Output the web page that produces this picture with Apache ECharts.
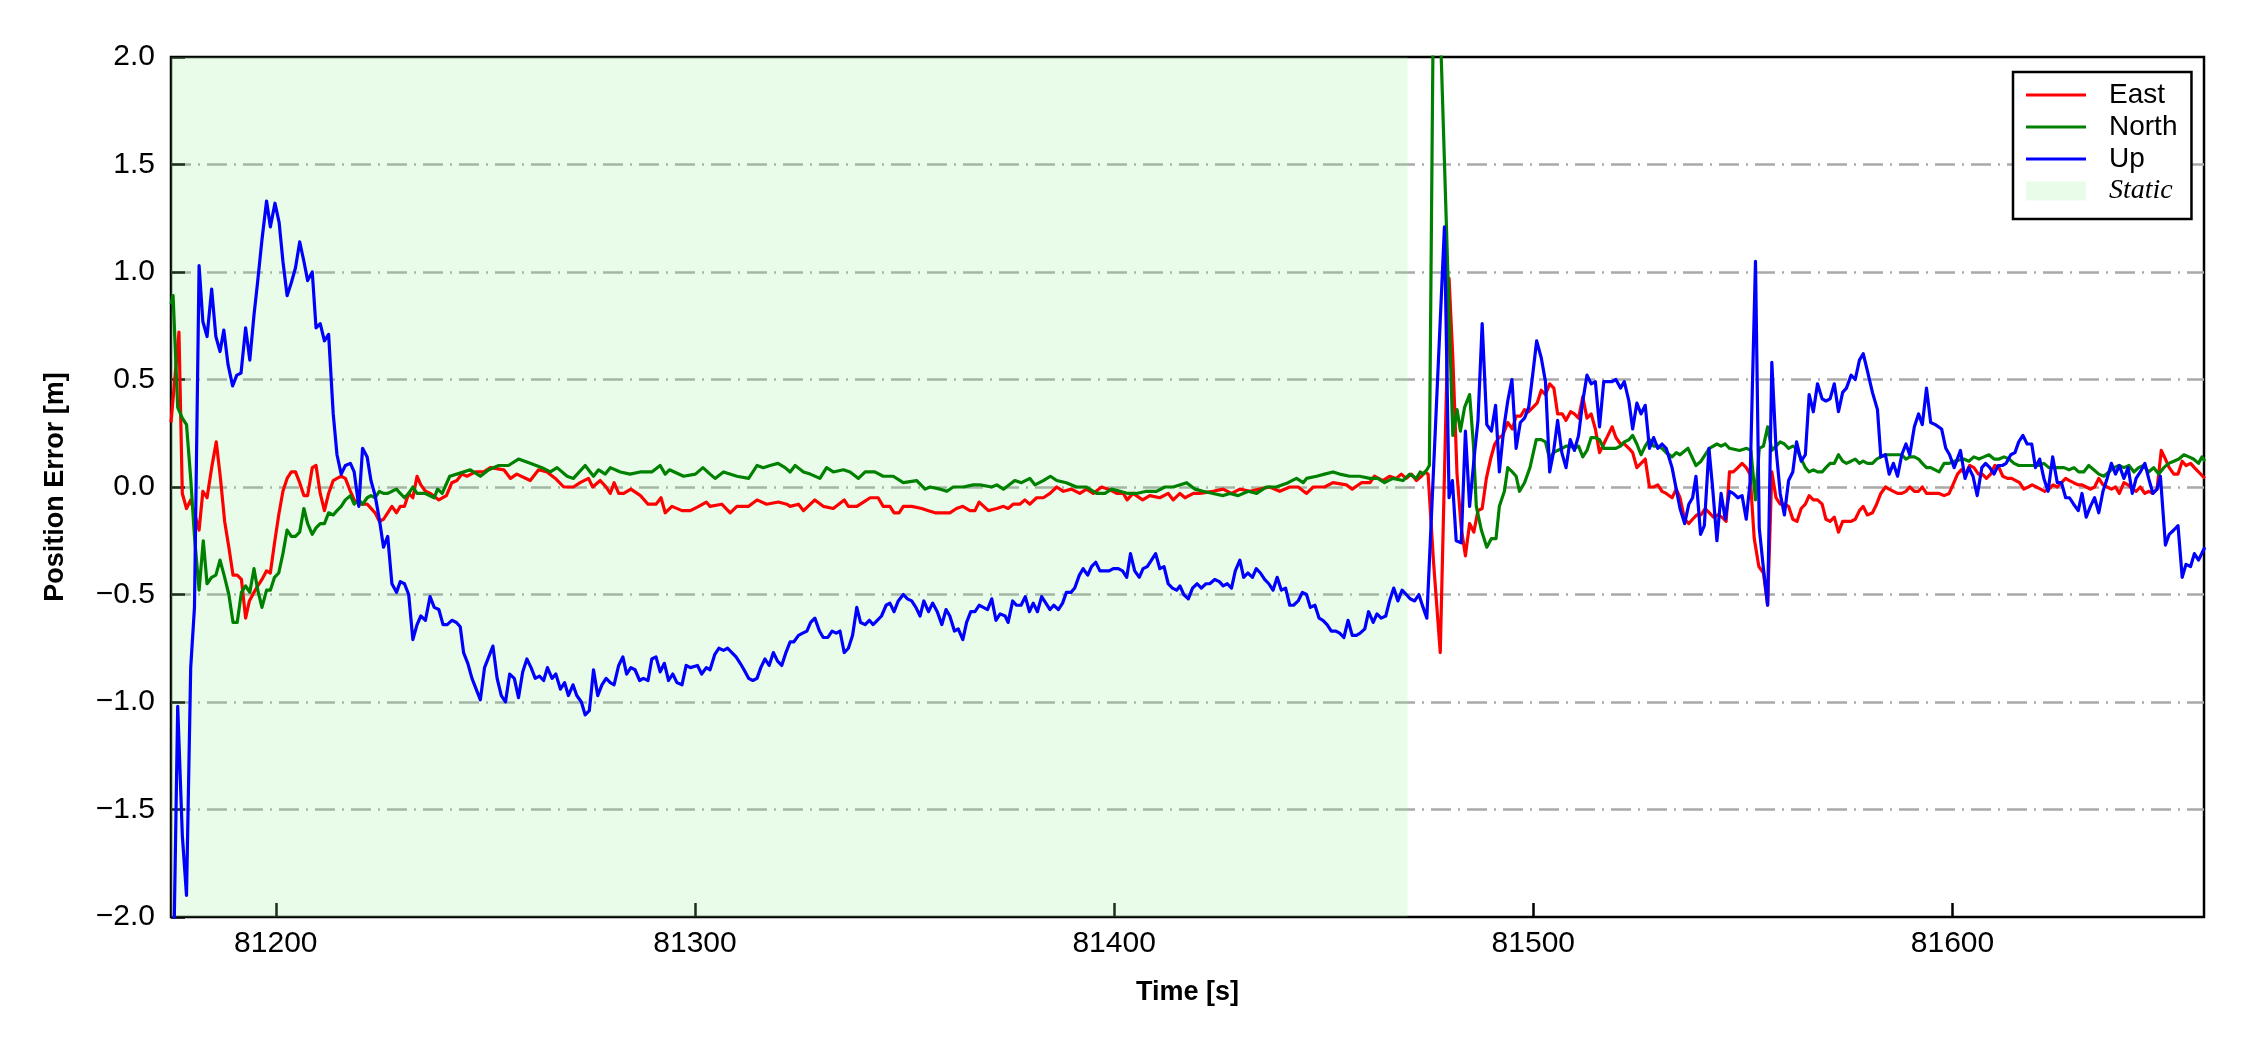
<!DOCTYPE html>
<html><head><meta charset="utf-8">
<script src="https://cdn.jsdelivr.net/npm/echarts@6/dist/echarts.min.js"></script>
<style>html,body{margin:0;padding:0;background:#fff}#chart{width:2250px;height:1050px}</style>
</head><body><div id="chart"></div>
<script>
// ---- data: [time (s), position error (m)] ----
const eastData = [
[81175.0,0.30],[81175.9,0.50],[81176.9,0.72],[81177.7,-0.03],[81178.7,-0.10],[81179.7,-0.06],[81181.7,-0.20],[81182.6,-0.02],[81183.6,-0.05],[81184.7,0.09],
[81185.8,0.21],[81186.8,0.04],[81187.8,-0.16],[81188.8,-0.28],[81189.8,-0.41],[81190.8,-0.41],[81191.8,-0.43],[81192.8,-0.61],[81193.7,-0.53],[81194.8,-0.49],
[81195.7,-0.46],[81196.7,-0.43],[81197.8,-0.39],[81198.7,-0.40],[81199.7,-0.26],[81200.7,-0.13],[81201.7,-0.02],[81202.7,0.04],[81203.7,0.07],[81204.7,0.07],
[81205.7,0.02],[81206.7,-0.04],[81207.6,-0.04],[81208.7,0.09],[81209.6,0.10],[81210.6,-0.03],[81211.6,-0.11],[81212.6,-0.03],[81213.7,0.03],[81214.6,0.04],
[81215.6,0.05],[81216.6,0.04],[81217.8,-0.02],[81218.7,-0.06],[81219.8,-0.08],[81221.8,-0.08],[81223.7,-0.12],[81224.7,-0.16],[81225.7,-0.15],[81226.7,-0.12],
[81227.7,-0.09],[81228.8,-0.12],[81229.7,-0.09],[81230.7,-0.09],[81231.7,-0.03],[81232.7,-0.05],[81233.7,0.05],[81234.6,0.01],[81235.7,-0.02],[81236.9,-0.03],
[81238.9,-0.06],[81240.7,-0.04],[81242.0,0.02],[81243.2,0.03],[81244.4,0.06],[81245.6,0.05],[81247.6,0.07],[81249.6,0.07],[81251.2,0.09],[81254.4,0.08],
[81256.0,0.04],[81257.5,0.06],[81260.7,0.03],[81262.7,0.08],[81264.7,0.07],[81266.7,0.04],[81268.7,0.00],[81271.0,0.00],[81272.6,0.02],[81274.6,0.04],
[81275.6,0.00],[81277.4,0.03],[81278.8,0.00],[81279.8,-0.03],[81280.7,0.02],[81281.8,-0.03],[81283.0,-0.03],[81284.7,-0.01],[81287.0,-0.04],[81288.8,-0.08],
[81290.7,-0.08],[81291.9,-0.05],[81292.9,-0.12],[81294.5,-0.09],[81296.9,-0.11],[81298.9,-0.11],[81300.9,-0.09],[81302.7,-0.07],[81303.6,-0.09],[81306.4,-0.08],
[81308.4,-0.12],[81310.0,-0.09],[81312.8,-0.09],[81314.8,-0.06],[81317.1,-0.08],[81319.9,-0.07],[81321.9,-0.08],[81322.7,-0.09],[81324.7,-0.08],[81325.9,-0.11],
[81328.6,-0.06],[81330.6,-0.09],[81333.0,-0.10],[81335.6,-0.06],[81336.6,-0.09],[81338.6,-0.09],[81340.2,-0.07],[81341.8,-0.05],[81343.7,-0.05],[81344.9,-0.09],
[81346.5,-0.09],[81347.5,-0.12],[81348.7,-0.12],[81349.7,-0.09],[81351.7,-0.09],[81354.1,-0.10],[81355.7,-0.11],[81357.3,-0.12],[81360.8,-0.12],[81362.4,-0.10],
[81363.9,-0.09],[81365.6,-0.11],[81366.8,-0.11],[81367.8,-0.07],[81370.0,-0.11],[81372.0,-0.10],[81373.6,-0.09],[81374.7,-0.10],[81375.9,-0.08],[81377.5,-0.08],
[81378.7,-0.06],[81379.9,-0.08],[81381.5,-0.05],[81383.1,-0.05],[81384.7,-0.03],[81386.3,0.00],[81387.9,-0.02],[81389.8,-0.01],[81391.8,-0.03],[81393.4,-0.01],
[81395.0,-0.03],[81397.0,0.00],[81398.6,-0.01],[81400.6,-0.03],[81402.2,-0.03],[81403.1,-0.06],[81404.5,-0.03],[81406.8,-0.06],[81408.5,-0.04],[81410.9,-0.05],
[81412.9,-0.03],[81414.1,-0.06],[81415.7,-0.03],[81416.9,-0.05],[81418.9,-0.03],[81420.4,-0.03],[81423.6,-0.02],[81426.0,-0.01],[81428.0,-0.03],[81430.0,-0.01],
[81432.4,-0.02],[81434.7,-0.01],[81437.1,0.00],[81439.5,-0.02],[81441.9,0.00],[81443.9,0.00],[81445.9,-0.03],[81447.5,0.00],[81450.2,0.00],[81452.2,0.02],
[81455.4,0.01],[81456.8,-0.01],[81459.0,0.02],[81461.0,0.02],[81462.1,0.05],[81464.1,0.03],[81465.7,0.05],[81467.3,0.04],[81468.5,0.06],[81469.7,0.04],
[81470.9,0.06],[81472.1,0.03],[81473.3,0.05],[81474.1,0.07],[81474.9,0.06],[81476.2,-0.35],[81477.8,-0.77],[81479.9,0.97],[81480.8,0.60],[81481.8,0.06],
[81482.8,-0.19],[81483.8,-0.32],[81484.8,-0.17],[81485.8,-0.21],[81486.8,-0.11],[81487.8,-0.10],[81488.8,0.04],[81489.8,0.13],[81490.8,0.20],[81491.8,0.23],
[81492.7,0.24],[81493.9,0.30],[81495.0,0.27],[81495.9,0.33],[81497.0,0.33],[81497.9,0.36],[81498.9,0.35],[81499.9,0.37],[81500.9,0.39],[81501.9,0.45],
[81502.9,0.43],[81503.9,0.48],[81504.9,0.46],[81505.8,0.34],[81506.9,0.34],[81507.8,0.31],[81508.9,0.35],[81509.8,0.34],[81510.8,0.32],[81511.8,0.42],
[81512.8,0.32],[81513.8,0.34],[81514.8,0.27],[81515.8,0.16],[81516.8,0.20],[81517.8,0.24],[81518.8,0.28],[81519.7,0.23],[81520.8,0.20],[81521.7,0.20],
[81522.8,0.18],[81523.7,0.16],[81524.7,0.09],[81525.7,0.11],[81526.7,0.13],[81527.7,0.00],[81528.7,0.00],[81529.7,0.01],[81530.7,-0.02],[81531.7,-0.03],
[81533.1,-0.05],[81534.1,-0.01],[81535.0,-0.05],[81536.1,-0.15],[81537.1,-0.17],[81538.0,-0.15],[81539.0,-0.13],[81540.0,-0.13],[81541.0,-0.10],[81542.0,-0.12],
[81543.0,-0.14],[81544.0,-0.13],[81545.0,-0.14],[81546.0,-0.16],[81546.8,0.07],[81547.7,0.07],[81548.8,0.09],[81549.8,0.11],[81550.8,0.09],[81551.7,0.06],
[81552.7,-0.24],[81553.8,-0.37],[81554.9,-0.40],[81555.9,-0.55],[81556.9,0.07],[81557.9,-0.05],[81558.9,-0.08],[81559.9,-0.08],[81560.9,-0.09],[81561.9,-0.15],
[81562.9,-0.16],[81563.9,-0.10],[81564.9,-0.08],[81565.8,-0.04],[81566.8,-0.06],[81567.8,-0.06],[81568.9,-0.08],[81569.8,-0.15],[81570.8,-0.16],[81571.8,-0.14],
[81572.8,-0.21],[81573.8,-0.16],[81574.7,-0.16],[81575.8,-0.16],[81576.8,-0.15],[81577.8,-0.11],[81578.7,-0.09],[81579.7,-0.13],[81580.9,-0.12],[81581.9,-0.08],
[81582.9,-0.03],[81584.0,0.00],[81584.9,-0.01],[81585.9,-0.02],[81586.9,-0.03],[81587.9,-0.03],[81588.9,-0.02],[81589.8,0.00],[81590.9,-0.02],[81591.9,-0.02],
[81592.8,0.00],[81593.8,-0.03],[81594.8,-0.03],[81596.8,-0.03],[81598.0,-0.04],[81599.2,-0.03],[81600.1,0.01],[81601.2,0.06],[81602.1,0.08],[81603.1,0.06],
[81604.1,0.10],[81605.1,0.09],[81606.2,0.06],[81607.1,0.06],[81608.1,0.04],[81609.1,0.06],[81610.1,0.10],[81611.1,0.09],[81612.0,0.05],[81613.1,0.04],
[81614.1,0.04],[81615.1,0.03],[81616.0,0.02],[81617.0,-0.01],[81618.1,0.00],[81619.0,0.01],[81620.0,0.00],[81621.0,-0.01],[81622.0,-0.02],[81623.0,-0.01],
[81624.0,0.01],[81625.0,0.00],[81626.0,0.02],[81627.0,0.04],[81627.9,0.03],[81628.9,0.02],[81630.0,0.01],[81630.9,0.01],[81631.9,0.00],[81632.9,-0.01],
[81633.9,0.00],[81634.9,0.04],[81635.9,0.01],[81636.9,0.00],[81637.9,-0.01],[81638.9,0.00],[81639.8,-0.03],[81640.9,0.02],[81641.9,0.01],[81642.9,-0.01],
[81643.8,-0.02],[81644.8,0.00],[81645.9,-0.03],[81646.8,-0.02],[81647.8,-0.03],[81648.8,-0.01],[81649.8,0.17],[81650.8,0.13],[81651.7,0.09],[81652.8,0.06],
[81653.8,0.06],[81654.8,0.12],[81655.7,0.10],[81656.8,0.11],[81657.7,0.09],[81658.7,0.07],[81659.7,0.05],[81660.2,0.04]
];
const northData = [
[81175.0,0.85],[81175.5,0.89],[81176.6,0.37],[81177.7,0.32],[81178.7,0.29],[81179.7,0.04],[81180.6,-0.23],[81181.7,-0.48],[81182.7,-0.25],[81183.6,-0.45],
[81184.7,-0.42],[81185.7,-0.41],[81186.7,-0.34],[81187.8,-0.42],[81188.8,-0.50],[81189.8,-0.63],[81190.8,-0.63],[81191.8,-0.49],[81192.8,-0.46],[81193.8,-0.49],
[81194.8,-0.38],[81195.7,-0.48],[81196.7,-0.56],[81197.8,-0.48],[81198.7,-0.48],[81199.7,-0.42],[81200.7,-0.40],[81201.7,-0.31],[81202.7,-0.20],[81203.7,-0.23],
[81204.7,-0.23],[81205.7,-0.21],[81206.7,-0.10],[81207.6,-0.17],[81208.7,-0.22],[81209.6,-0.19],[81210.6,-0.17],[81211.6,-0.17],[81212.6,-0.12],[81213.7,-0.13],
[81214.6,-0.11],[81215.6,-0.09],[81216.6,-0.06],[81217.8,-0.04],[81218.7,-0.08],[81219.8,-0.06],[81220.7,-0.08],[81221.8,-0.05],[81222.7,-0.04],[81223.7,-0.05],
[81224.7,-0.02],[81225.7,-0.03],[81226.7,-0.03],[81227.7,-0.02],[81228.8,-0.01],[81229.7,-0.03],[81230.7,-0.05],[81231.7,-0.03],[81232.7,0.00],[81233.7,-0.03],
[81234.6,-0.03],[81235.7,-0.03],[81237.8,-0.05],[81238.6,-0.01],[81239.7,-0.03],[81241.5,0.05],[81243.2,0.06],[81246.4,0.08],[81248.8,0.05],[81250.8,0.08],
[81253.2,0.10],[81255.5,0.10],[81257.9,0.13],[81260.7,0.11],[81263.5,0.09],[81265.5,0.07],[81267.1,0.09],[81269.5,0.05],[81271.0,0.04],[81273.8,0.10],
[81275.8,0.05],[81277.0,0.08],[81278.6,0.06],[81279.8,0.09],[81282.2,0.07],[81284.5,0.06],[81286.9,0.07],[81289.7,0.07],[81291.7,0.10],[81292.9,0.06],
[81293.9,0.08],[81297.3,0.05],[81300.1,0.06],[81301.9,0.09],[81303.6,0.06],[81304.8,0.04],[81306.8,0.07],[81310.0,0.05],[81312.8,0.04],[81314.8,0.10],
[81316.3,0.09],[81317.9,0.10],[81319.8,0.11],[81321.5,0.09],[81322.7,0.07],[81323.9,0.10],[81325.9,0.07],[81327.5,0.06],[81329.8,0.04],[81331.4,0.09],
[81333.0,0.07],[81335.4,0.08],[81337.0,0.07],[81339.0,0.04],[81340.6,0.07],[81342.9,0.07],[81344.9,0.05],[81347.3,0.05],[81349.7,0.02],[81352.9,0.03],
[81354.9,-0.01],[81356.1,0.00],[81358.5,-0.01],[81360.1,-0.02],[81361.6,0.00],[81364.0,0.00],[81366.4,0.01],[81368.0,0.01],[81370.8,0.00],[81372.0,0.01],
[81373.6,-0.01],[81376.3,0.03],[81377.9,0.02],[81379.9,0.04],[81381.1,0.01],[81383.1,0.03],[81384.8,0.05],[81386.3,0.03],[81388.6,0.02],[81391.0,0.00],
[81393.4,0.00],[81395.8,-0.03],[81397.8,-0.03],[81399.4,-0.01],[81401.4,-0.02],[81403.3,-0.03],[81405.3,-0.03],[81407.7,-0.02],[81410.1,-0.02],[81412.1,0.00],
[81414.1,0.00],[81417.3,0.02],[81419.3,-0.01],[81421.2,-0.02],[81423.6,-0.03],[81426.0,-0.04],[81427.6,-0.03],[81429.6,-0.04],[81432.0,-0.02],[81434.0,-0.03],
[81436.3,0.00],[81438.7,0.00],[81441.5,0.02],[81443.5,0.04],[81445.1,0.02],[81445.9,0.04],[81448.3,0.05],[81450.2,0.06],[81452.2,0.07],[81453.8,0.06],
[81456.2,0.05],[81458.6,0.05],[81461.0,0.04],[81462.9,0.04],[81464.5,0.02],[81466.5,0.04],[81468.9,0.03],[81470.5,0.06],[81472.1,0.04],[81473.0,0.07],
[81473.8,0.06],[81474.6,0.08],[81475.2,0.10],[81476.3,2.60],[81477.4,2.40],[81480.8,0.24],[81481.8,0.36],[81482.6,0.26],[81483.6,0.37],[81484.8,0.43],
[81485.7,0.20],[81486.4,-0.09],[81487.6,-0.20],[81488.9,-0.28],[81490.0,-0.24],[81491.1,-0.24],[81491.9,-0.09],[81493.1,-0.02],[81493.9,0.09],[81495.0,0.07],
[81495.9,0.05],[81496.7,-0.02],[81497.9,0.02],[81499.2,0.09],[81500.7,0.22],[81501.9,0.22],[81502.9,0.21],[81503.9,0.13],[81504.8,0.16],[81505.8,0.17],
[81506.9,0.18],[81507.8,0.19],[81508.9,0.19],[81509.8,0.18],[81510.8,0.19],[81511.8,0.14],[81512.8,0.17],[81513.8,0.23],[81514.8,0.23],[81515.8,0.22],
[81516.8,0.18],[81517.8,0.18],[81518.8,0.18],[81519.7,0.18],[81520.8,0.19],[81521.7,0.21],[81522.8,0.22],[81523.7,0.24],[81524.7,0.20],[81525.7,0.15],
[81526.7,0.19],[81527.7,0.22],[81528.7,0.19],[81529.7,0.19],[81530.7,0.18],[81531.7,0.16],[81533.1,0.14],[81534.1,0.16],[81535.0,0.15],[81536.9,0.18],
[81538.8,0.10],[81540.0,0.12],[81542.0,0.18],[81543.8,0.20],[81544.8,0.19],[81545.8,0.20],[81546.8,0.18],[81549.2,0.17],[81550.9,0.18],[81551.9,0.17],
[81553.0,-0.06],[81553.9,0.18],[81554.9,0.19],[81555.9,0.28],[81556.9,0.17],[81558.9,0.21],[81559.9,0.20],[81560.9,0.18],[81561.9,0.19],[81562.8,0.18],
[81563.9,0.13],[81564.9,0.09],[81565.8,0.07],[81566.8,0.08],[81567.8,0.07],[81568.9,0.07],[81569.8,0.09],[81570.8,0.11],[81571.8,0.11],[81572.8,0.15],
[81573.8,0.12],[81574.7,0.11],[81575.8,0.12],[81576.8,0.13],[81577.8,0.11],[81578.7,0.12],[81579.7,0.11],[81580.9,0.11],[81581.9,0.13],[81582.9,0.14],
[81584.0,0.15],[81584.9,0.15],[81585.9,0.15],[81586.9,0.15],[81587.9,0.15],[81588.9,0.13],[81589.8,0.14],[81590.9,0.14],[81591.9,0.13],[81592.8,0.11],
[81593.8,0.09],[81594.8,0.09],[81596.8,0.07],[81598.0,0.11],[81599.2,0.11],[81600.4,0.12],[81602.7,0.13],[81603.9,0.12],[81605.1,0.14],[81606.3,0.13],
[81607.5,0.14],[81608.7,0.15],[81609.9,0.13],[81611.1,0.13],[81612.3,0.14],[81613.5,0.13],[81614.7,0.11],[81615.8,0.10],[81617.0,0.10],[81618.2,0.10],
[81619.4,0.10],[81620.6,0.10],[81621.8,0.11],[81623.0,0.09],[81624.2,0.09],[81625.4,0.09],[81626.6,0.09],[81627.8,0.08],[81629.0,0.09],[81630.1,0.07],
[81631.3,0.07],[81632.5,0.10],[81633.7,0.08],[81634.9,0.06],[81636.1,0.05],[81637.3,0.07],[81638.5,0.09],[81639.7,0.10],[81640.9,0.09],[81642.1,0.10],
[81643.3,0.07],[81644.4,0.09],[81645.6,0.10],[81646.8,0.07],[81648.0,0.09],[81649.2,0.06],[81650.4,0.09],[81651.6,0.11],[81652.8,0.12],[81654.0,0.13],
[81655.2,0.15],[81656.4,0.14],[81657.5,0.13],[81658.7,0.11],[81659.5,0.14],[81660.2,0.12]
];
const upData = [
[81175.3,-2.60],[81176.6,-1.02],[81177.7,-1.62],[81178.7,-1.90],[81179.7,-0.84],[81180.6,-0.56],[81181.7,1.03],[81182.6,0.77],[81183.6,0.70],[81184.7,0.92],
[81185.7,0.70],[81186.7,0.63],[81187.6,0.73],[81188.6,0.57],[81189.7,0.47],[81190.7,0.52],[81191.7,0.53],[81192.8,0.74],[81193.8,0.59],[81194.8,0.80],
[81195.7,0.96],[81196.7,1.15],[81197.8,1.33],[81198.7,1.21],[81199.8,1.32],[81200.8,1.23],[81201.7,1.05],[81202.7,0.89],[81203.7,0.95],[81204.7,1.02],
[81205.7,1.14],[81206.7,1.05],[81207.6,0.96],[81208.7,1.00],[81209.6,0.74],[81210.6,0.76],[81211.6,0.68],[81212.6,0.71],[81213.7,0.34],[81214.6,0.15],
[81215.6,0.06],[81216.6,0.10],[81217.8,0.11],[81218.7,0.07],[81219.8,-0.09],[81220.7,0.18],[81221.8,0.14],[81222.7,0.03],[81223.7,-0.04],[81224.7,-0.15],
[81225.7,-0.28],[81226.7,-0.23],[81227.7,-0.45],[81228.8,-0.49],[81229.7,-0.44],[81230.7,-0.45],[81231.7,-0.50],[81232.7,-0.71],[81233.7,-0.64],[81234.6,-0.60],
[81235.7,-0.62],[81236.8,-0.51],[81237.8,-0.56],[81238.9,-0.57],[81239.9,-0.64],[81240.9,-0.64],[81242.0,-0.62],[81243.1,-0.63],[81244.0,-0.65],[81244.8,-0.77],
[81245.8,-0.82],[81246.8,-0.89],[81247.8,-0.94],[81248.8,-0.99],[81249.8,-0.84],[81250.8,-0.79],[81251.8,-0.74],[81252.8,-0.89],[81253.8,-0.97],[81254.8,-1.00],
[81255.8,-0.87],[81256.9,-0.89],[81257.9,-0.98],[81258.9,-0.86],[81259.9,-0.80],[81260.9,-0.84],[81261.9,-0.89],[81262.9,-0.88],[81263.9,-0.90],[81264.8,-0.84],
[81265.9,-0.89],[81266.8,-0.87],[81267.9,-0.94],[81268.9,-0.91],[81269.8,-0.97],[81270.9,-0.92],[81271.8,-0.97],[81272.9,-1.00],[81273.8,-1.06],[81274.8,-1.04],
[81275.8,-0.85],[81276.8,-0.97],[81277.8,-0.92],[81278.8,-0.89],[81279.8,-0.91],[81280.7,-0.92],[81281.8,-0.83],[81282.8,-0.79],[81283.7,-0.87],[81284.7,-0.84],
[81285.7,-0.85],[81286.8,-0.90],[81287.7,-0.89],[81288.8,-0.90],[81289.7,-0.80],[81290.7,-0.79],[81291.7,-0.86],[81292.7,-0.82],[81293.7,-0.90],[81294.7,-0.87],
[81295.7,-0.91],[81296.9,-0.92],[81297.9,-0.83],[81298.9,-0.84],[81300.6,-0.83],[81301.6,-0.87],[81302.7,-0.84],[81303.6,-0.85],[81304.7,-0.78],[81305.7,-0.75],
[81306.8,-0.76],[81307.8,-0.75],[81308.8,-0.77],[81309.8,-0.79],[81310.8,-0.82],[81311.7,-0.85],[81312.8,-0.89],[81313.8,-0.90],[81314.8,-0.89],[81315.7,-0.84],
[81316.7,-0.80],[81317.7,-0.83],[81318.7,-0.77],[81319.7,-0.81],[81320.7,-0.83],[81321.7,-0.77],[81322.7,-0.72],[81323.6,-0.72],[81324.7,-0.69],[81325.7,-0.68],
[81326.7,-0.67],[81327.6,-0.63],[81328.6,-0.61],[81329.7,-0.67],[81330.6,-0.70],[81331.7,-0.70],[81332.7,-0.67],[81333.7,-0.68],[81334.6,-0.67],[81335.6,-0.77],
[81336.6,-0.75],[81337.6,-0.69],[81338.6,-0.56],[81339.5,-0.63],[81340.6,-0.64],[81341.6,-0.62],[81342.5,-0.64],[81343.5,-0.62],[81344.5,-0.60],[81345.6,-0.55],
[81346.5,-0.54],[81347.5,-0.58],[81348.5,-0.53],[81349.7,-0.50],[81350.7,-0.52],[81351.7,-0.53],[81352.7,-0.56],[81353.7,-0.60],[81354.6,-0.53],[81355.7,-0.58],
[81356.7,-0.54],[81357.8,-0.58],[81358.9,-0.64],[81359.9,-0.57],[81360.8,-0.60],[81361.9,-0.67],[81362.8,-0.66],[81363.9,-0.71],[81364.8,-0.63],[81365.8,-0.58],
[81366.8,-0.58],[81367.8,-0.55],[81368.8,-0.56],[81369.8,-0.57],[81370.8,-0.52],[81371.8,-0.62],[81372.8,-0.59],[81374.0,-0.60],[81374.7,-0.63],[81375.8,-0.53],
[81376.7,-0.55],[81377.8,-0.55],[81378.8,-0.51],[81379.8,-0.58],[81380.7,-0.54],[81381.7,-0.58],[81382.7,-0.51],[81383.7,-0.54],[81384.7,-0.57],[81385.6,-0.55],
[81386.7,-0.57],[81387.7,-0.54],[81388.6,-0.49],[81389.7,-0.49],[81390.6,-0.47],[81391.7,-0.41],[81392.6,-0.38],[81393.7,-0.41],[81394.6,-0.37],[81395.6,-0.35],
[81396.6,-0.39],[81397.8,-0.39],[81398.8,-0.39],[81399.8,-0.38],[81401.0,-0.38],[81402.0,-0.39],[81403.0,-0.42],[81403.9,-0.31],[81404.9,-0.39],[81406.0,-0.42],
[81406.9,-0.38],[81407.9,-0.37],[81408.9,-0.34],[81409.9,-0.31],[81410.9,-0.38],[81411.9,-0.37],[81412.9,-0.45],[81413.9,-0.47],[81414.9,-0.48],[81415.7,-0.46],
[81416.6,-0.50],[81417.7,-0.52],[81418.7,-0.47],[81419.8,-0.45],[81420.8,-0.47],[81421.9,-0.45],[81422.8,-0.45],[81424.0,-0.43],[81425.1,-0.44],[81426.0,-0.46],
[81427.0,-0.45],[81428.0,-0.47],[81428.9,-0.39],[81430.0,-0.34],[81430.9,-0.42],[81431.9,-0.40],[81433.0,-0.42],[81433.9,-0.38],[81434.9,-0.40],[81435.9,-0.43],
[81436.9,-0.45],[81437.9,-0.48],[81438.9,-0.42],[81439.9,-0.48],[81440.9,-0.47],[81441.9,-0.55],[81442.8,-0.55],[81443.9,-0.53],[81444.9,-0.49],[81445.9,-0.50],
[81446.8,-0.56],[81447.9,-0.55],[81448.9,-0.61],[81449.8,-0.62],[81450.8,-0.64],[81451.8,-0.67],[81452.9,-0.67],[81453.8,-0.68],[81454.8,-0.70],[81455.8,-0.62],
[81456.8,-0.69],[81457.8,-0.69],[81458.7,-0.68],[81459.8,-0.66],[81460.7,-0.58],[81461.8,-0.63],[81462.7,-0.59],[81463.7,-0.61],[81464.8,-0.60],[81465.7,-0.53],
[81466.7,-0.47],[81467.7,-0.53],[81468.7,-0.48],[81469.7,-0.50],[81470.6,-0.52],[81471.7,-0.53],[81472.7,-0.50],[81473.7,-0.56],[81474.6,-0.61],[81476.7,0.30],
[81478.8,1.21],[81479.9,-0.05],[81480.7,0.03],[81481.6,-0.25],[81482.8,-0.26],[81483.8,0.26],[81484.8,-0.09],[81486.0,0.16],[81486.8,0.31],[81487.8,0.76],
[81488.9,0.29],[81490.0,0.26],[81491.0,0.38],[81491.9,0.07],[81493.0,0.28],[81493.9,0.40],[81494.9,0.50],[81495.9,0.18],[81496.9,0.30],[81497.9,0.32],
[81498.9,0.37],[81499.9,0.53],[81500.8,0.68],[81501.9,0.60],[81502.9,0.49],[81503.9,0.07],[81504.8,0.16],[81505.8,0.31],[81506.8,0.16],[81507.8,0.09],
[81508.8,0.22],[81509.8,0.17],[81510.8,0.24],[81511.8,0.40],[81512.8,0.52],[81513.8,0.48],[81514.8,0.49],[81515.8,0.28],[81516.8,0.49],[81517.8,0.49],
[81518.8,0.49],[81519.7,0.50],[81520.8,0.46],[81521.7,0.49],[81522.8,0.40],[81523.7,0.27],[81524.7,0.39],[81525.7,0.34],[81526.7,0.38],[81527.7,0.18],
[81528.7,0.23],[81529.7,0.18],[81530.7,0.20],[81531.7,0.18],[81533.1,0.09],[81534.1,-0.01],[81535.0,-0.10],[81536.1,-0.17],[81537.1,-0.08],[81538.0,-0.05],
[81538.8,0.05],[81539.9,-0.22],[81540.8,-0.18],[81541.9,0.18],[81542.8,-0.01],[81543.8,-0.25],[81544.8,-0.03],[81545.8,-0.15],[81546.8,-0.02],[81547.7,-0.03],
[81548.8,-0.05],[81549.8,-0.04],[81550.8,-0.15],[81551.7,0.02],[81553.0,1.05],[81553.9,-0.19],[81554.9,-0.38],[81555.9,-0.55],[81556.9,0.58],[81557.9,0.18],
[81558.9,-0.03],[81559.9,-0.13],[81560.9,0.03],[81561.9,0.07],[81562.8,0.21],[81563.9,0.12],[81564.9,0.15],[81565.8,0.43],[81566.8,0.35],[81567.8,0.48],
[81568.9,0.41],[81569.8,0.40],[81570.8,0.41],[81571.8,0.48],[81572.8,0.35],[81573.8,0.44],[81574.7,0.46],[81575.8,0.52],[81576.8,0.50],[81577.8,0.59],
[81578.7,0.62],[81579.7,0.54],[81580.9,0.44],[81582.1,0.36],[81582.9,0.14],[81584.0,0.15],[81584.9,0.06],[81585.9,0.11],[81586.9,0.05],[81587.9,0.15],
[81588.9,0.20],[81589.8,0.15],[81590.9,0.28],[81591.9,0.34],[81592.8,0.29],[81593.8,0.46],[81594.8,0.30],[81595.9,0.29],[81597.4,0.27],[81598.4,0.18],
[81599.3,0.15],[81600.4,0.09],[81601.9,0.17],[81603.0,0.04],[81603.9,0.09],[81604.9,0.05],[81605.9,-0.04],[81607.0,0.09],[81607.9,0.11],[81608.9,0.09],
[81609.9,0.06],[81610.9,0.10],[81611.9,0.10],[81612.8,0.11],[81613.9,0.15],[81614.9,0.16],[81615.8,0.21],[81616.8,0.24],[81617.8,0.20],[81618.9,0.20],
[81619.8,0.09],[81620.8,0.13],[81621.8,0.04],[81622.8,-0.02],[81623.9,0.14],[81625.0,0.02],[81626.0,0.02],[81627.0,-0.05],[81627.9,-0.05],[81628.9,-0.08],
[81630.0,-0.11],[81630.9,-0.03],[81631.9,-0.14],[81632.9,-0.09],[81633.9,-0.05],[81634.9,-0.12],[81635.9,-0.02],[81636.9,0.04],[81637.9,0.11],[81638.9,0.06],
[81639.8,0.10],[81640.9,0.04],[81641.9,0.09],[81642.9,-0.03],[81643.8,0.04],[81644.8,0.07],[81645.9,0.11],[81646.8,0.04],[81647.8,-0.03],[81648.8,-0.01],
[81649.6,0.05],[81650.8,-0.27],[81651.7,-0.22],[81652.8,-0.20],[81653.8,-0.18],[81654.8,-0.42],[81655.7,-0.36],[81656.8,-0.37],[81657.7,-0.31],[81658.7,-0.34],
[81659.7,-0.30],[81660.2,-0.28]
];
const staticInterval = [81175, 81470];
const xRange = [81175, 81660];
const xTicks = [81200, 81300, 81400, 81500, 81600];
const yRange = [-2, 2];
const yStep = 0.5;
const seriesNames = ['East', 'North', 'Up'];
const staticName = 'Static';
const axisTitles = { x: 'Time [s]', y: 'Position Error [m]' };

// ---- styling ----
const SANS = '"Liberation Sans", Arial, Helvetica, sans-serif';
const SERIF = '"Liberation Serif", "Times New Roman", serif';
const colors = { East: '#ff0000', North: '#008000', Up: '#0000ff' };
const staticColor = 'rgba(144,238,144,0.2)';
const datasets = { East: eastData, North: northData, Up: upData };

const chart = echarts.init(document.getElementById('chart'), null, { renderer: 'canvas' });

const lineSeries = seriesNames.map((name, i) => ({
  name, type: 'line', data: datasets[name], showSymbol: false, symbol: 'none',
  clip: true, z: 3 + i, animation: false,
  lineStyle: { color: colors[name], width: 3.2, join: 'round' },
  itemStyle: { color: colors[name] }
}));

const legendLineIcon = 'path://M0 0H60V3.2H0Z';

const option = {
  animation: false,
  backgroundColor: '#ffffff',
  grid: { left: 171, top: 57, width: 2033, height: 860, show: true, borderColor: '#000', borderWidth: 2.5, backgroundColor: 'transparent', containLabel: false },
  legend: {
    orient: 'vertical', left: 2013, top: 72,
    padding: [9, 14, 14, 13], itemGap: 4, itemWidth: 60, itemHeight: 19,
    backgroundColor: '#ffffff', borderColor: '#000', borderWidth: 2.5, borderRadius: 0,
    selectedMode: false,
    textStyle: { fontFamily: SANS, fontSize: 28, color: '#000', padding: [0, 0, 0, 18] },
    data: [
      ...seriesNames.map(n => ({ name: n, icon: legendLineIcon, itemStyle: { color: colors[n] } })),
      { name: staticName, icon: 'rect', itemStyle: { color: staticColor },
        textStyle: { fontFamily: SERIF, fontStyle: 'italic', fontSize: 28, color: '#000', padding: [0, 0, 0, 18] } }
    ]
  },
  xAxis: {
    type: 'value', min: xRange[0], max: xRange[1],
    name: axisTitles.x, nameLocation: 'middle', nameGap: 62,
    nameTextStyle: { fontFamily: SANS, fontWeight: 'bold', fontSize: 27, color: '#000' },
    axisLine: { show: false, onZero: false },
    splitLine: { show: false },
    axisTick: { show: true, inside: true, length: 14, customValues: xTicks, lineStyle: { color: '#000', width: 2.5 } },
    axisLabel: { customValues: xTicks, formatter: v => String(v), fontFamily: SANS, fontSize: 30, color: '#000', margin: 12 }
  },
  yAxis: {
    type: 'value', min: yRange[0], max: yRange[1], interval: yStep,
    name: axisTitles.y, nameLocation: 'middle', nameGap: 102, nameRotate: 90,
    nameTextStyle: { fontFamily: SANS, fontWeight: 'bold', fontSize: 27, color: '#000' },
    axisLine: { show: false, onZero: false },
    splitLine: { show: true, showMinLine: false, showMaxLine: false, lineStyle: { color: '#a9a9a9', width: 2.5, type: [20, 7, 2, 7] } },
    axisTick: { show: true, inside: true, length: 14, lineStyle: { color: '#000', width: 2.5 } },
    axisLabel: { formatter: v => v.toFixed(1).replace('-', '\u2212'), fontFamily: SANS, fontSize: 30, color: '#000', margin: 16 }
  },
  series: [
    {
      name: staticName, type: 'line', data: [], z: 1,
      itemStyle: { color: staticColor },
      markArea: { silent: true, itemStyle: { color: staticColor }, data: [[{ xAxis: staticInterval[0] }, { xAxis: staticInterval[1] }]] }
    },
    ...lineSeries
  ]
};
chart.setOption(option);
</script>
</body></html>
